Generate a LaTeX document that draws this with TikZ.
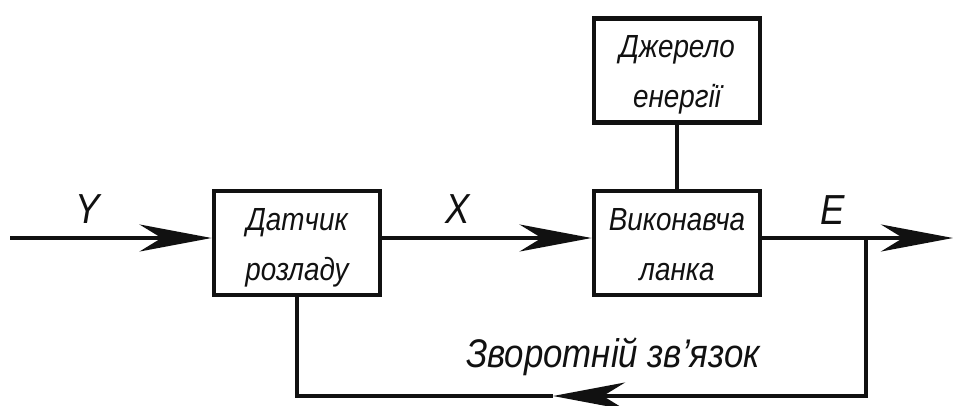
\documentclass[tikz,border=0pt]{standalone}
\usepackage{fontspec}
\setmainfont[FakeStretch=0.87]{Liberation Sans}
\usetikzlibrary{arrows.meta,positioning}
\definecolor{bdInk}{HTML}{111111}
\tikzset{
 scheme/.style={line join=miter,text=bdInk},
 block/.style={rectangle,draw=bdInk,fill=white,line width=4.8pt,inner sep=0pt,
   minimum width=166pt,minimum height=104pt,align=center,
   text height=88pt,text depth=14pt,
   font=\fontsize{32}{50}\selectfont\itshape},
 wire/.style={draw=bdInk,line width=4.3pt},
 flow/.style={wire,-{Stealth[length=72pt,width=27pt,inset=22pt]}},
 sig/.style={font=\fontsize{42}{42}\selectfont\itshape,anchor=base,inner sep=0pt},
 loopnote/.style={font=\fontsize{40}{40}\selectfont\itshape,anchor=base,inner sep=0pt}
}

\begin{document}
\begin{tikzpicture}[scheme,x=1pt,y=-1pt]
 \useasboundingbox (0,0) rectangle (955,405);
 \node[block] (sensor) at (297,243) {Датчик\\розладу};
 \node[block] (exec) at (677,243) {Виконавча\\ланка};
 \node[block] (source) at (677,70.5) {Джерело\\енергії};
 \coordinate (in) at (10,238);
 \coordinate (tap) at (866,238);
 \coordinate (out) at (953,238);
 \coordinate (back) at (553,396);
 \draw[flow] (in) -- (in -| sensor.west);
 \draw[flow] (in -| sensor.east) -- (in -| exec.west);
 \draw[wire] (source) -- (exec);
 \draw[wire] (in -| exec.east) -- (tap);
 \draw[flow] (tap) -- (out);
 \draw[flow] (tap) |- (back);
 \draw[wire] (back) -| (sensor.south);
 \node[sig] (y) at (88,223) {Y};
 \node[sig] (x) at (458,223) {X};
 \node[sig] (e) at (833,224) {E};
 \node[loopnote] (fb) at (613,367) {Зворотній зв’язок};
\end{tikzpicture}
\end{document}
